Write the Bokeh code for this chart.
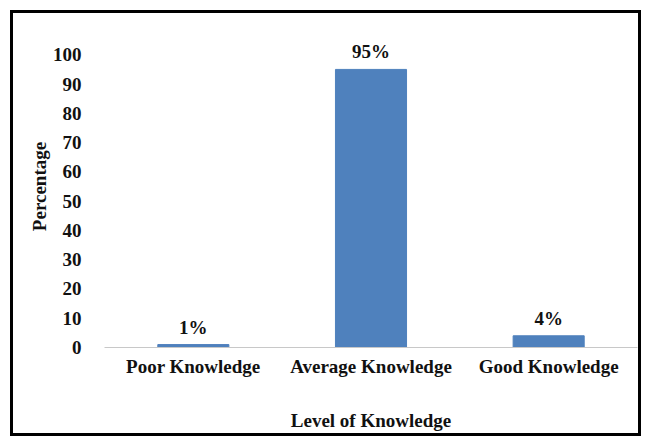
from bokeh.plotting import figure
from bokeh.models import ColumnDataSource, LabelSet, Range1d, FixedTicker
from bokeh.embed import file_html
from bokeh.resources import INLINE

categories = ["Poor Knowledge", "Average Knowledge", "Good Knowledge"]
values = [1, 95, 4]
labels = ["1%", "95%", "4%"]
y_ticks = [0, 10, 20, 30, 40, 50, 60, 70, 80, 90, 100]

FONT = "Liberation Serif"
FS = "19px"

src = ColumnDataSource(dict(cat=categories, val=values, lab=labels))

p = figure(x_range=categories, y_range=Range1d(0, 110),
           width=631, height=426, output_backend="svg", toolbar_location=None,
           min_border_left=91, min_border_right=7, min_border_top=12, min_border_bottom=92)
p.styles = {"border": "3px solid black", "margin-left": "10px", "margin-top": "10px"}
p.outline_line_color = None
p.xgrid.grid_line_color = None
p.ygrid.grid_line_color = None

p.vbar(x="cat", top="val", width=0.4, source=src, color="#4F81BD")

p.add_layout(LabelSet(x="cat", y="val", text="lab", source=src, y_offset=7,
                      text_align="center", text_baseline="bottom",
                      text_font=FONT, text_font_size=FS, text_font_style="bold",
                      text_color="#111111"))

p.yaxis.ticker = FixedTicker(ticks=y_ticks)
p.yaxis.axis_line_color = None
p.yaxis.major_tick_line_color = None
p.yaxis.minor_tick_line_color = None
p.yaxis.major_label_standoff = 17
p.yaxis.axis_label = "Percentage"
p.yaxis.axis_label_standoff = 0

p.xaxis.axis_line_color = "#c8c8c8"
p.xaxis.major_tick_line_color = None
p.xaxis.minor_tick_line_color = None
p.xaxis.major_label_standoff = 2
p.xaxis.axis_label = "Level of Knowledge"
p.xaxis.axis_label_standoff = 30

for ax in (p.xaxis, p.yaxis):
    ax.major_label_text_font = FONT
    ax.major_label_text_font_size = FS
    ax.major_label_text_font_style = "bold"
    ax.major_label_text_color = "#111111"
    ax.axis_label_text_font = FONT
    ax.axis_label_text_font_size = FS
    ax.axis_label_text_font_style = "bold"
    ax.axis_label_text_color = "#111111"

p.x_range.range_padding = 0.0

open("out.html", "w").write(file_html(p, INLINE))
